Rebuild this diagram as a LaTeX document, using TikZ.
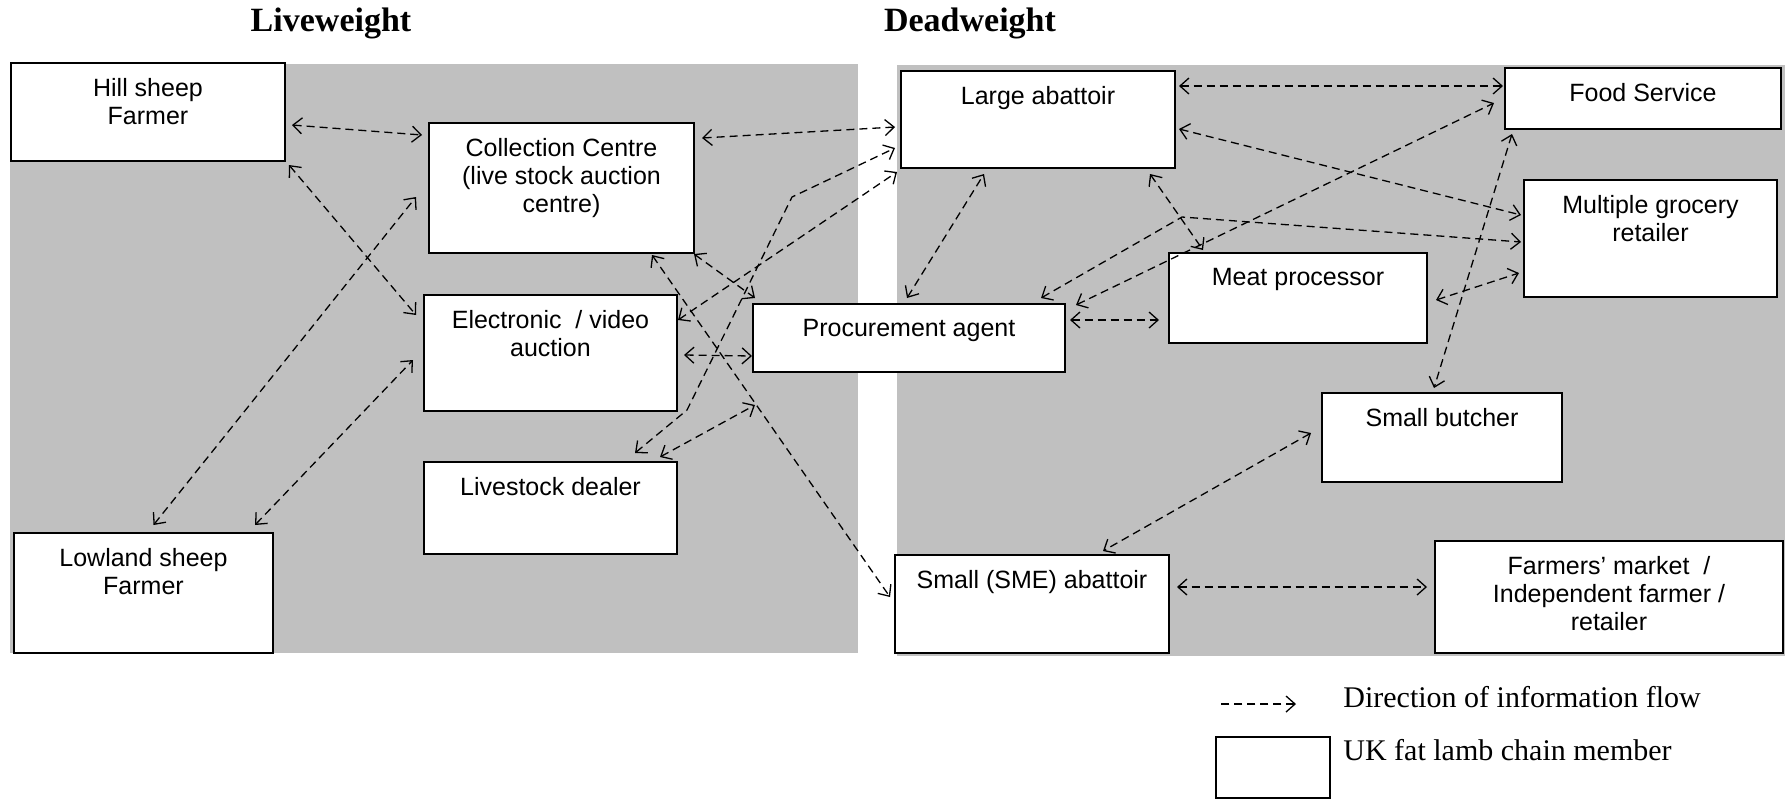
\documentclass[tikz,border=0pt]{standalone}
\usepackage{fontspec}
\setmainfont{Liberation Sans}
\newfontfamily\timesfont{Liberation Serif}
\usetikzlibrary{arrows.meta}
\definecolor{panelgray}{RGB}{192,192,192}
\tikzset{
  member/.style 2 args={draw, line width=1pt, fill=white, anchor=north west, inner sep=0pt,
    minimum width=#1*0.5pt, minimum height=#2*0.5pt},
  memtext/.style={anchor=north, align=center, inner sep=0pt, yshift=-8pt,
    font=\fontsize{12.5}{14}\selectfont},
  flow/.style={<->, dash pattern=on 4pt off 2.5pt, line width=0.65pt},
  sidetitle/.style={font=\timesfont\bfseries\fontsize{17}{20}\selectfont},
  legtext/.style={anchor=west, inner sep=0pt, font=\timesfont\fontsize{15}{18}\selectfont}
}

\begin{document}
\begin{tikzpicture}[x=0.5pt, y=-0.5pt, >={Straight Barb[length=4.5pt,width=8pt]}]
      \useasboundingbox (0,0) rectangle (1788,799);
      \fill[panelgray] (10,64) rectangle (858,653);
      \fill[panelgray] (897,65) rectangle (1785,656);
      \node[sidetitle] (live) at (331,23) {Liveweight};
      \node[sidetitle] (dead) at (970,23) {Deadweight};

      \node[member={274}{98}, label={[memtext]north:{Hill sheep\\Farmer}}] (hill) at (10,62) {};
      \node[member={259}{120}, label={[memtext]north:{Lowland sheep\\Farmer}}] (lowland) at (13,532) {};
      \node[member={265}{130}, label={[memtext]north:{Collection Centre\\(live stock auction\\centre)}}] (collect) at (428,122) {};
      \node[member={253}{116}, label={[memtext]north:{Electronic\ \ / video\\auction}}] (evideo) at (423,294) {};
      \node[member={253}{92}, label={[memtext]north:{Livestock dealer}}] (dealer) at (423,461) {};
      \node[member={312}{68}, label={[memtext]north:{Procurement agent}}] (agent) at (752,303) {};
      \node[member={274}{97}, label={[memtext]north:{Large abattoir}}] (large) at (900,70) {};
      \node[member={276}{61}, label={[memtext]north:{Food Service}}] (food) at (1504,67) {};
      \node[member={253}{117}, label={[memtext]north:{Multiple grocery\\retailer}}] (grocery) at (1523,179) {};
      \node[member={258}{90}, label={[memtext]north:{Meat processor}}] (meat) at (1168,252) {};
      \node[member={240}{89}, label={[memtext]north:{Small butcher}}] (butcher) at (1321,392) {};
      \node[member={274}{98}, label={[memtext]north:{Small (SME) abattoir}}] (sme) at (894,554) {};
      \node[member={348}{112}, label={[memtext]north:{Farmers’ market\ \ /\\Independent farmer /\\retailer}}] (market) at (1434,540) {};

      \draw[flow] ([shift={(6,13)}]hill.east) -- ([shift={(-6,13)}]collect.north west);
      \draw[flow] ([shift={(3,3)}]hill.south east) -- ([shift={(-7,21)}]evideo.north west);
      \draw[flow] ([shift={(7,16)}]collect.north east) -- ([shift={(-5,57)}]large.north west);
      \draw[flow] ([shift={(10,-7)}]lowland.north) -- ([shift={(-12,75)}]collect.north west);
      \draw[flow] ([shift={(-19,-7)}]lowland.north east) -- ([shift={(-10,66)}]evideo.north west);
      \draw[flow] ([shift={(0,26)}]evideo.north east) -- ([shift={(-3,3)}]large.south west);
      \draw[flow] ([shift={(-43,-8)}]dealer.north east) -- (687,410) -- (792,197) -- ([shift={(-5,78)}]large.north west);
      \draw[flow] ([shift={(-1,0)}]collect.south east) -- ([shift={(3,-5)}]agent.north west);
      \draw[flow] ([shift={(-43,1)}]collect.south east) -- ([shift={(-4,43)}]sme.north west);
      \draw[flow] ([shift={(6,61)}]evideo.north east) -- ([shift={(0,18)}]agent.west);
      \draw[flow] ([shift={(-18,-4)}]dealer.north east) -- ([shift={(3,32)}]agent.south west);
      \draw[flow] ([shift={(155,-5)}]agent.north west) -- ([shift={(84,5)}]large.south west);
      \draw[flow] ([shift={(3,16)}]large.north east) -- ([shift={(-1,19)}]food.north west);
      \draw[flow] ([shift={(3,59)}]large.north east) -- ([shift={(-2,36)}]grocery.north west);
      \draw[flow] ([shift={(-26,5)}]large.south east) -- ([shift={(35,-2)}]meat.north west);
      \draw[flow] ([shift={(10,2)}]agent.north east) -- ([shift={(-10,36)}]food.north west);
      \draw[flow] ([shift={(-25,-5)}]agent.north east) -- (1182,217) -- ([shift={(-2,63)}]grocery.north west);
      \draw[flow] ([shift={(4,17)}]agent.north east) -- ([shift={(-9,68)}]meat.north west);
      \draw[flow] ([shift={(8,48)}]meat.north east) -- ([shift={(-4,94)}]grocery.north west);
      \draw[flow] ([shift={(8,4)}]food.south west) -- ([shift={(113,-4)}]butcher.north west);
      \draw[flow] ([shift={(-10,41)}]butcher.north west) -- ([shift={(209,-3)}]sme.north west);
      \draw[flow] ([shift={(7,33)}]sme.north east) -- ([shift={(-7,47)}]market.north west);

      \coordinate (lgstart) at (1218,704);
      \coordinate (lgend) at (1296,704);
      \draw[flow, <-] (lgend) -- (lgstart);
      \node[legtext] (lgflow) at (1343,697) {Direction of information flow};
      \node[member={114}{61}] (lgbox) at (1215,736) {};
      \node[legtext] (lgmember) at (1343,750) {UK fat lamb chain member};
\end{tikzpicture}
\end{document}
